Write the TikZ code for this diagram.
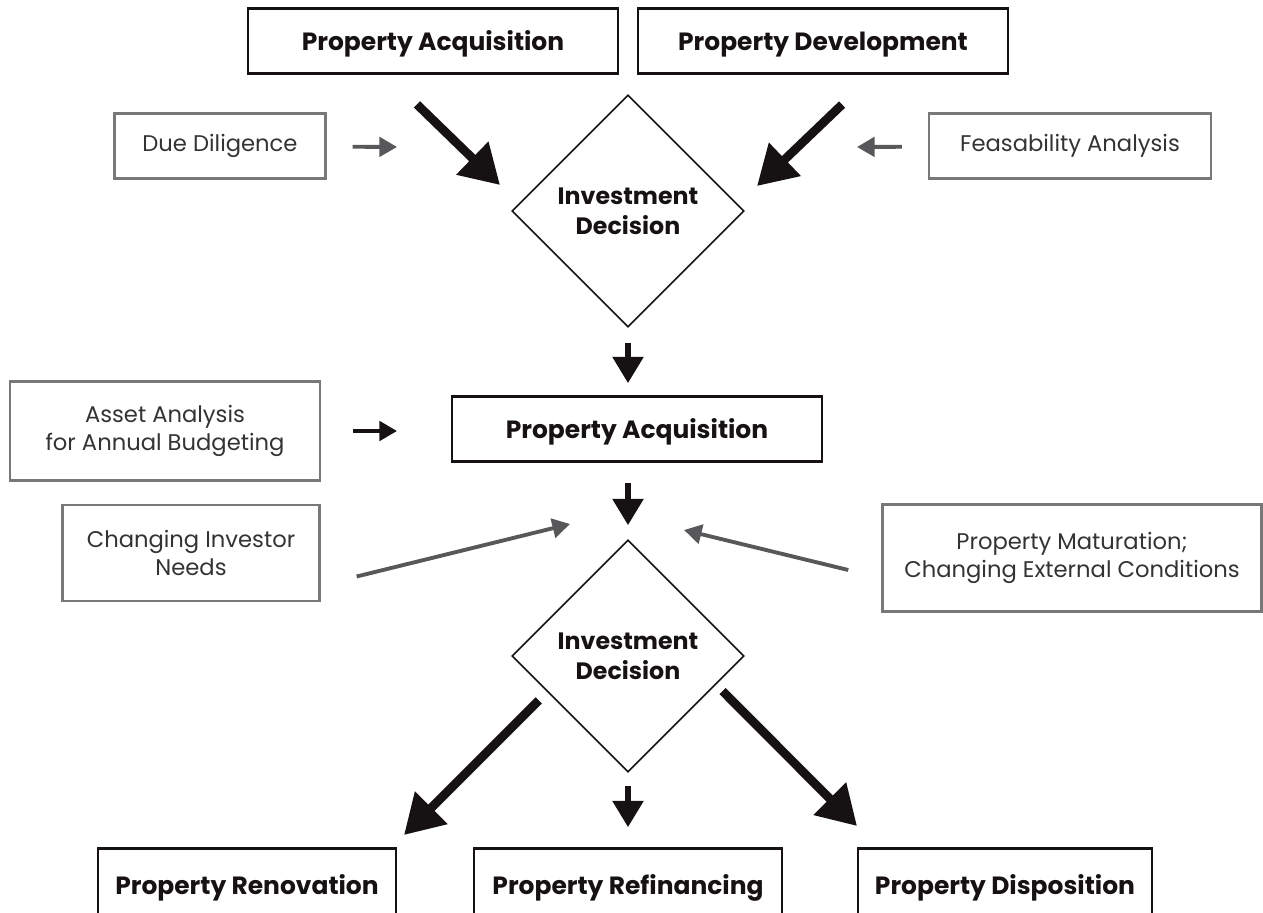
\documentclass[tikz,border=0pt]{standalone}
\usepackage{fontspec}
\setmainfont{Poppins}
\usetikzlibrary{shapes.geometric,arrows.meta}
\definecolor{ink}{HTML}{161214}
\definecolor{hintgray}{HTML}{58585A}
\definecolor{framegray}{HTML}{787878}
\definecolor{textgray}{HTML}{333333}

\begin{document}
\begin{tikzpicture}
[ x=0.02cm, y=-0.02cm
, stage/.style={rectangle, draw=ink, line width=1.5pt, minimum height=1.3cm, text depth=0pt, text=ink, font=\bfseries\fontsize{14.2}{17}\selectfont}
, factor/.style={rectangle, draw=framegray, line width=1.4pt, align=center, text=textgray, font=\fontsize{12.9}{16}\selectfont}
, decision/.style={diamond, draw=ink, line width=0.9pt, minimum width=4.64cm, minimum height=4.64cm, inner sep=0pt, align=center, text=ink, font=\bfseries\fontsize{13.5}{17}\selectfont}
, bigflow/.style={draw=ink, line width=5pt, -{Triangle[length=22pt, width=25pt]}}
, flow/.style={draw=ink, line width=3.4pt, -{Triangle[length=15pt, width=17pt]}}
, hint/.style={draw=hintgray, line width=2.2pt, -{Triangle[length=10pt, width=11pt]}}
]
\useasboundingbox (0,0) rectangle (1263,912);
% First row:
\node (acqtop) [stage, minimum width=7.4cm] at (433,41) {Property Acquisition};
\node (devtop) [stage, minimum width=7.4cm] at (823,41) {Property Development};
\node (duedil) [factor, minimum width=4.22cm, minimum height=1.3cm] at (220,146) {Due Diligence};
\node (feas) [factor, minimum width=5.64cm, minimum height=1.3cm] at (1070,146) {Feasability Analysis};
\node (decA) [decision] at (628,211) {Investment\\Decision};
% Second row:
\node (acq) [stage, minimum width=7.4cm] at (637,429) {Property Acquisition};
\node (asset) [factor, minimum width=6.2cm, minimum height=1.98cm] at (165,431) {Asset Analysis\\for Annual Budgeting};
\node (investor) [factor, minimum width=5.14cm, minimum height=1.92cm] at (191,553) {Changing Investor\\Needs};
\node (maturation) [factor, minimum width=7.58cm, minimum height=2.14cm] at (1072,558) {Property Maturation;\\Changing External Conditions};
\node (decB) [decision] at (628,656) {Investment\\Decision};
% Third row:
\node (renov) [stage, minimum width=5.96cm, minimum height=1.42cm] at (247,884) {Property Renovation};
\node (refin) [stage, minimum width=6.16cm, minimum height=1.42cm] at (628,884) {Property Refinancing};
\node (dispo) [stage, minimum width=5.88cm, minimum height=1.42cm] at (1005,884) {Property Disposition};
% arrow tips
\coordinate (acqtip) at (500,185);
\coordinate (devtip) at (757,186);
\coordinate (ddtip) at (397,147);
\coordinate (fstip) at (857,147);
\coordinate (astip) at (397,431);
\coordinate (invtip) at (570,524);
\coordinate (mattip) at (684,530);
\coordinate (rentip) at (404,835);
\coordinate (distip) at (857,826);
% into the first decision
\draw [bigflow, shorten <=0.85cm] (acqtop.216) -- (acqtip);
\draw [bigflow, shorten <=0.86cm] (devtop.-34.8) -- (devtip);
\draw [hint, shorten <=0.52cm] (duedil) -- (ddtip);
\draw [hint, shorten <=0.52cm] (feas) -- (fstip);
\draw [flow, shorten <=0.3cm, shorten >=0.24cm] (decA.south) -- (decA.south |- acq.north);
% into the second decision
\draw [hint, draw=ink, shorten <=0.64cm] (asset) -- (astip);
\draw [flow, shorten <=0.4cm, shorten >=0.28cm] (acq.south -| decB.north) -- (decB.north);
\draw [hint, shorten <=0.74cm] (investor.-14.4) -- (invtip);
\draw [hint, shorten <=0.68cm] (maturation.186.7) -- (mattip);
% out of the second decision
\draw [bigflow, shorten <=0.24cm] (decB.204.7) -- (rentip);
\draw [flow, shorten <=0.26cm, shorten >=0.4cm] (decB.south) -- (refin.north);
\draw [bigflow, shorten <=0.18cm] (decB.-18) -- (distip);
\end{tikzpicture}
\end{document}
